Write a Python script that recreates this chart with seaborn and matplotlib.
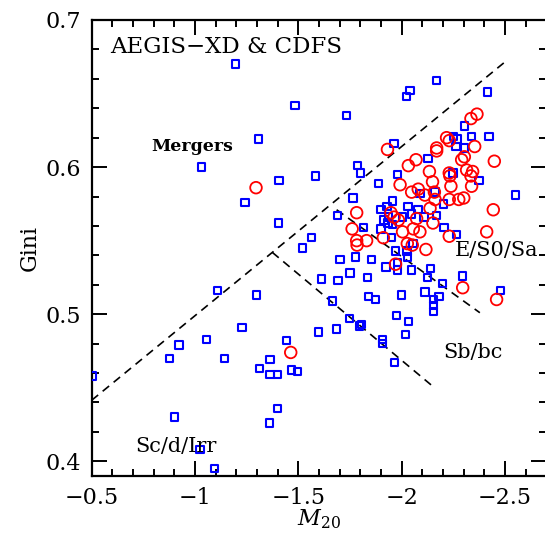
import matplotlib
matplotlib.use("Agg")
import matplotlib.pyplot as plt
import seaborn as sns
import pandas as pd
from matplotlib.ticker import FixedLocator, MultipleLocator

# ---------------- data ----------------
blue_m20 = [-1.197, -2.024, -2.040, -2.169, -2.416, -1.484, -1.734, -2.303, -1.306, -1.963,
            -2.249, -2.268, -2.338, -2.422, -2.262, -2.304, -1.030, -2.127, -1.787, -1.801,
            -1.980, -1.406, -1.583, -2.248, -2.374, -1.242, -1.887, -2.088, -2.161, -2.551,
            -1.764, -1.956, -1.929, -1.900, -2.030, -2.079, -2.203, -1.690, -1.404, -1.914,
            -1.936, -2.004, -2.046, -2.108, -2.168, -1.933, -1.956, -1.815, -1.900, -2.204,
            -2.265, -1.563, -1.951, -1.521, -1.970, -2.054, -2.025, -1.701, -1.777, -1.854,
            -2.028, -1.980, -1.924, -1.979, -2.047, -2.138, -1.750, -1.612, -1.692, -1.835,
            -2.125, -2.197, -2.294, -1.108, -1.297, -1.664, -1.838, -1.872, -1.999, -2.112,
            -2.153, -2.181, -2.153, -2.153, -2.479, -1.974, -2.034, -1.748, -1.806, -1.795,
            -1.684, -1.596, -2.017, -1.227, -1.056, -0.922, -1.441, -1.908, -1.906, -1.965,
            -0.875, -1.143, -1.363, -1.311, -1.363, -1.400, -1.468, -1.495, -0.505, -0.902,
            -1.398, -1.359, -1.024, -1.095]
blue_gini = [0.670, 0.648, 0.652, 0.659, 0.651, 0.642, 0.635, 0.628, 0.619, 0.616,
             0.621, 0.619, 0.621, 0.621, 0.614, 0.613, 0.600, 0.606, 0.601, 0.596,
             0.595, 0.591, 0.594, 0.596, 0.591, 0.576, 0.589, 0.582, 0.583, 0.581,
             0.579, 0.577, 0.573, 0.571, 0.573, 0.571, 0.575, 0.567, 0.562, 0.564,
             0.566, 0.566, 0.568, 0.566, 0.567, 0.562, 0.561, 0.559, 0.558, 0.559,
             0.554, 0.552, 0.552, 0.545, 0.543, 0.548, 0.543, 0.537, 0.539, 0.537,
             0.539, 0.535, 0.532, 0.530, 0.530, 0.531, 0.528, 0.524, 0.523, 0.525,
             0.525, 0.521, 0.526, 0.516, 0.513, 0.509, 0.512, 0.510, 0.513, 0.515,
             0.510, 0.512, 0.506, 0.502, 0.516, 0.499, 0.495, 0.497, 0.493, 0.492,
             0.490, 0.488, 0.486, 0.491, 0.483, 0.479, 0.482, 0.483, 0.480, 0.467,
             0.470, 0.470, 0.469, 0.463, 0.459, 0.459, 0.462, 0.461, 0.458, 0.430,
             0.436, 0.426, 0.408, 0.395]

red_m20 = [-1.931, -2.169, -2.169, -2.217, -2.230, -2.335, -2.364, -2.353, -2.290, -2.303,
           -2.448, -2.032, -2.069, -2.134, -2.230, -2.233, -2.314, -2.343, -2.335, -1.295,
           -1.992, -2.149, -2.238, -2.338, -2.048, -2.080, -2.112, -2.158, -2.161, -2.230,
           -2.276, -2.300, -2.443, -2.137, -1.782, -1.948, -1.963, -1.984, -2.072, -2.151,
           -1.760, -2.004, -2.056, -2.088, -2.230, -2.411, -1.782, -1.784, -1.830, -1.911,
           -2.027, -2.051, -2.117, -1.970, -2.295, -2.459, -1.463]
red_gini = [0.612, 0.613, 0.611, 0.620, 0.618, 0.633, 0.636, 0.614, 0.605, 0.607,
            0.604, 0.601, 0.605, 0.597, 0.596, 0.594, 0.598, 0.597, 0.594, 0.586,
            0.588, 0.590, 0.587, 0.587, 0.583, 0.585, 0.581, 0.583, 0.578, 0.578,
            0.578, 0.579, 0.571, 0.572, 0.569, 0.569, 0.566, 0.564, 0.565, 0.562,
            0.558, 0.556, 0.558, 0.556, 0.553, 0.556, 0.550, 0.547, 0.550, 0.552,
            0.548, 0.547, 0.544, 0.534, 0.518, 0.510, 0.474]

# classification lines (endpoints in data units)
merger_m20 = [-0.5, -2.504]
merger_gini = [0.4415, 0.672]
sbc_irr_m20 = [-1.374, -2.150]
sbc_irr_gini = [0.542, 0.451]
es0_sbc_m20 = [-1.685, -2.378]
es0_sbc_gini = [0.571, 0.501]

x_ticks = [-0.5, -1.0, -1.5, -2.0, -2.5]
x_ticklabels = ["\u22120.5", "\u22121", "\u22121.5", "\u22122", "\u22122.5"]
y_ticks = [0.4, 0.5, 0.6, 0.7]
y_ticklabels = ["0.4", "0.5", "0.6", "0.7"]

title_text = "AEGIS\u2212XD & CDFS"
region_labels = ["Mergers", "E/S0/Sa", "Sb/bc", "Sc/d/Irr"]
region_m20 = [-0.985, -2.461, -2.345, -0.908]
region_gini = [0.614, 0.5435, 0.474, 0.410]
region_bold = [True, False, False, False]
region_size = [12.5, 15, 15, 15]

# ---------------- plot ----------------
sns.set_style("ticks")
plt.rcParams["font.family"] = ["DejaVu Serif"]
plt.rcParams["mathtext.fontset"] = "dejavuserif"
plt.rcParams["text.color"] = "black"
plt.rcParams["axes.labelcolor"] = "black"

fig = plt.figure(figsize=(5.45, 5.43), dpi=100)
ax = fig.add_axes([91.7 / 545, 67 / 543, 454.7 / 545, 456 / 543])

blue_df = pd.DataFrame({"M20": blue_m20, "Gini": blue_gini})
red_df = pd.DataFrame({"M20": red_m20, "Gini": red_gini})

sns.scatterplot(data=blue_df, x="M20", y="Gini", marker="s", s=28, color="#0000ff",
                facecolor="none", edgecolor="#0000ff", linewidth=1.5, ax=ax, zorder=3)
sns.scatterplot(data=red_df, x="M20", y="Gini", marker="o", s=70, color="#ff0000",
                facecolor="none", edgecolor="#ff0000", linewidth=1.3, ax=ax, zorder=4)

for xs, ys in [(merger_m20, merger_gini), (sbc_irr_m20, sbc_irr_gini), (es0_sbc_m20, es0_sbc_gini)]:
    sns.lineplot(x=xs, y=ys, ax=ax, color="black", linewidth=1.2, linestyle=(0, (5, 3.5)),
                 sort=False, estimator=None, zorder=2)

ax.set_xlim(-0.5, -2.7)
ax.set_ylim(0.39, 0.70)

ax.xaxis.set_major_locator(FixedLocator(x_ticks))
ax.set_xticklabels(x_ticklabels)
ax.xaxis.set_minor_locator(MultipleLocator(0.1))
ax.yaxis.set_major_locator(FixedLocator(y_ticks))
ax.set_yticklabels(y_ticklabels)
ax.yaxis.set_minor_locator(MultipleLocator(0.02))

ax.tick_params(which="both", direction="in", top=True, right=True, width=1.4,
               colors="black", labelcolor="black")
ax.tick_params(which="major", length=11, labelsize=16, pad=8)
ax.tick_params(which="minor", length=5)
for sp in ax.spines.values():
    sp.set_linewidth(1.6)
    sp.set_color("black")

ax.set_xlabel(r"$M_{20}$", fontsize=16, labelpad=-1, color="black")
ax.set_ylabel("Gini", fontsize=16, labelpad=3, color="black")

ax.text(0.04, 0.94, title_text, transform=ax.transAxes, fontsize=16.5,
        ha="left", va="center", color="black")
for lab, xm, yg, b, fs in zip(region_labels, region_m20, region_gini, region_bold, region_size):
    ax.text(xm, yg, lab, fontsize=fs, ha="center", va="center", color="black",
            fontweight="bold" if b else "normal", zorder=5)

fig.savefig("out.png", dpi=100)
